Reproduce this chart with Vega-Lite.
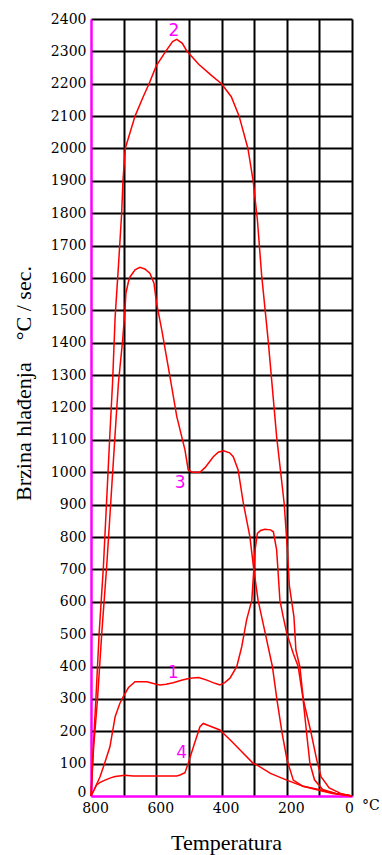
{
  "$schema": "https://vega.github.io/schema/vega-lite/v6.json",
  "width": 261,
  "height": 777,
  "autosize": {"type": "none"},
  "padding": {"left": 91, "top": 19, "right": 30, "bottom": 59},
  "background": "white",
  "config": {"view": {"stroke": null}},
  "datasets": {
    "curves": [
      {"curve": "1", "T": 800, "V": 0}, {"curve": "1", "T": 790, "V": 20}, {"curve": "1", "T": 772, "V": 60}, {"curve": "1", "T": 757, "V": 105}, {"curve": "1", "T": 742, "V": 152}, {"curve": "1", "T": 726, "V": 245}, {"curve": "1", "T": 712, "V": 285}, {"curve": "1", "T": 701, "V": 307}, {"curve": "1", "T": 685, "V": 335}, {"curve": "1", "T": 665, "V": 353}, {"curve": "1", "T": 629, "V": 353}, {"curve": "1", "T": 600, "V": 345}, {"curve": "1", "T": 588, "V": 343}, {"curve": "1", "T": 570, "V": 345}, {"curve": "1", "T": 548, "V": 350}, {"curve": "1", "T": 520, "V": 358}, {"curve": "1", "T": 497, "V": 364}, {"curve": "1", "T": 470, "V": 366}, {"curve": "1", "T": 445, "V": 358}, {"curve": "1", "T": 420, "V": 348}, {"curve": "1", "T": 405, "V": 343}, {"curve": "1", "T": 390, "V": 350}, {"curve": "1", "T": 374, "V": 364}, {"curve": "1", "T": 353, "V": 400}, {"curve": "1", "T": 338, "V": 461}, {"curve": "1", "T": 323, "V": 544}, {"curve": "1", "T": 307, "V": 605}, {"curve": "1", "T": 297, "V": 760}, {"curve": "1", "T": 290, "V": 811}, {"curve": "1", "T": 280, "V": 820}, {"curve": "1", "T": 267, "V": 824}, {"curve": "1", "T": 250, "V": 822}, {"curve": "1", "T": 241, "V": 816}, {"curve": "1", "T": 231, "V": 760}, {"curve": "1", "T": 221, "V": 605}, {"curve": "1", "T": 211, "V": 554}, {"curve": "1", "T": 200, "V": 503}, {"curve": "1", "T": 180, "V": 440}, {"curve": "1", "T": 165, "V": 400}, {"curve": "1", "T": 150, "V": 300}, {"curve": "1", "T": 139, "V": 193}, {"curve": "1", "T": 129, "V": 101}, {"curve": "1", "T": 115, "V": 50}, {"curve": "1", "T": 90, "V": 20}, {"curve": "1", "T": 50, "V": 8}, {"curve": "1", "T": 0, "V": 0},
      {"curve": "2", "T": 800, "V": 0}, {"curve": "2", "T": 793, "V": 150}, {"curve": "2", "T": 785, "V": 300}, {"curve": "2", "T": 775, "V": 503}, {"curve": "2", "T": 762, "V": 708}, {"curve": "2", "T": 752, "V": 914}, {"curve": "2", "T": 742, "V": 1120}, {"curve": "2", "T": 734, "V": 1275}, {"curve": "2", "T": 726, "V": 1480}, {"curve": "2", "T": 716, "V": 1635}, {"curve": "2", "T": 706, "V": 1800}, {"curve": "2", "T": 702, "V": 1900}, {"curve": "2", "T": 695, "V": 2000}, {"curve": "2", "T": 680, "V": 2050}, {"curve": "2", "T": 665, "V": 2100}, {"curve": "2", "T": 640, "V": 2160}, {"curve": "2", "T": 622, "V": 2200}, {"curve": "2", "T": 600, "V": 2255}, {"curve": "2", "T": 571, "V": 2300}, {"curve": "2", "T": 550, "V": 2330}, {"curve": "2", "T": 537, "V": 2337}, {"curve": "2", "T": 520, "V": 2325}, {"curve": "2", "T": 507, "V": 2302}, {"curve": "2", "T": 470, "V": 2260}, {"curve": "2", "T": 430, "V": 2225}, {"curve": "2", "T": 400, "V": 2200}, {"curve": "2", "T": 370, "V": 2160}, {"curve": "2", "T": 346, "V": 2100}, {"curve": "2", "T": 319, "V": 2000}, {"curve": "2", "T": 303, "V": 1900}, {"curve": "2", "T": 290, "V": 1780}, {"curve": "2", "T": 277, "V": 1609}, {"curve": "2", "T": 257, "V": 1408}, {"curve": "2", "T": 231, "V": 1110}, {"curve": "2", "T": 208, "V": 905}, {"curve": "2", "T": 198, "V": 760}, {"curve": "2", "T": 192, "V": 650}, {"curve": "2", "T": 178, "V": 554}, {"curve": "2", "T": 172, "V": 451}, {"curve": "2", "T": 160, "V": 400}, {"curve": "2", "T": 149, "V": 297}, {"curve": "2", "T": 125, "V": 193}, {"curve": "2", "T": 108, "V": 111}, {"curve": "2", "T": 95, "V": 60}, {"curve": "2", "T": 70, "V": 25}, {"curve": "2", "T": 35, "V": 8}, {"curve": "2", "T": 0, "V": 0},
      {"curve": "3", "T": 800, "V": 0}, {"curve": "3", "T": 792, "V": 150}, {"curve": "3", "T": 780, "V": 300}, {"curve": "3", "T": 767, "V": 503}, {"curve": "3", "T": 752, "V": 708}, {"curve": "3", "T": 739, "V": 914}, {"curve": "3", "T": 726, "V": 1120}, {"curve": "3", "T": 716, "V": 1275}, {"curve": "3", "T": 703, "V": 1408}, {"curve": "3", "T": 696, "V": 1500}, {"curve": "3", "T": 693, "V": 1553}, {"curve": "3", "T": 685, "V": 1590}, {"curve": "3", "T": 680, "V": 1604}, {"curve": "3", "T": 665, "V": 1625}, {"curve": "3", "T": 650, "V": 1633}, {"curve": "3", "T": 635, "V": 1628}, {"curve": "3", "T": 619, "V": 1614}, {"curve": "3", "T": 607, "V": 1584}, {"curve": "3", "T": 599, "V": 1522}, {"curve": "3", "T": 583, "V": 1439}, {"curve": "3", "T": 558, "V": 1295}, {"curve": "3", "T": 537, "V": 1172}, {"curve": "3", "T": 512, "V": 1069}, {"curve": "3", "T": 502, "V": 1007}, {"curve": "3", "T": 490, "V": 1000}, {"curve": "3", "T": 466, "V": 1000}, {"curve": "3", "T": 450, "V": 1015}, {"curve": "3", "T": 425, "V": 1048}, {"curve": "3", "T": 410, "V": 1062}, {"curve": "3", "T": 394, "V": 1066}, {"curve": "3", "T": 375, "V": 1060}, {"curve": "3", "T": 364, "V": 1048}, {"curve": "3", "T": 349, "V": 1007}, {"curve": "3", "T": 333, "V": 904}, {"curve": "3", "T": 313, "V": 801}, {"curve": "3", "T": 302, "V": 708}, {"curve": "3", "T": 288, "V": 605}, {"curve": "3", "T": 266, "V": 503}, {"curve": "3", "T": 244, "V": 400}, {"curve": "3", "T": 230, "V": 297}, {"curve": "3", "T": 214, "V": 193}, {"curve": "3", "T": 199, "V": 111}, {"curve": "3", "T": 180, "V": 49}, {"curve": "3", "T": 150, "V": 30}, {"curve": "3", "T": 108, "V": 19}, {"curve": "3", "T": 60, "V": 8}, {"curve": "3", "T": 0, "V": 0},
      {"curve": "4", "T": 800, "V": 0}, {"curve": "4", "T": 790, "V": 20}, {"curve": "4", "T": 783, "V": 34}, {"curve": "4", "T": 772, "V": 42}, {"curve": "4", "T": 757, "V": 49}, {"curve": "4", "T": 740, "V": 56}, {"curve": "4", "T": 726, "V": 60}, {"curve": "4", "T": 696, "V": 64}, {"curve": "4", "T": 671, "V": 62}, {"curve": "4", "T": 620, "V": 62}, {"curve": "4", "T": 568, "V": 62}, {"curve": "4", "T": 537, "V": 62}, {"curve": "4", "T": 527, "V": 65}, {"curve": "4", "T": 512, "V": 72}, {"curve": "4", "T": 502, "V": 101}, {"curve": "4", "T": 486, "V": 152}, {"curve": "4", "T": 466, "V": 214}, {"curve": "4", "T": 456, "V": 224}, {"curve": "4", "T": 440, "V": 218}, {"curve": "4", "T": 405, "V": 204}, {"curve": "4", "T": 370, "V": 170}, {"curve": "4", "T": 343, "V": 142}, {"curve": "4", "T": 303, "V": 101}, {"curve": "4", "T": 292, "V": 96}, {"curve": "4", "T": 250, "V": 70}, {"curve": "4", "T": 200, "V": 49}, {"curve": "4", "T": 150, "V": 30}, {"curve": "4", "T": 98, "V": 19}, {"curve": "4", "T": 50, "V": 8}, {"curve": "4", "T": 0, "V": 0}
    ],
    "labels": [
      {"T": 546, "V": 2364, "text": "2"},
      {"T": 527, "V": 967, "text": "3"},
      {"T": 548, "V": 380, "text": "1"},
      {"T": 522, "V": 133, "text": "4"}
    ],
    "unit": [
      {"T": -58, "V": -31, "text": "°C"}
    ]
  },
  "encoding": {
    "x": {
      "field": "T", "type": "quantitative",
      "scale": {"domain": [0, 800], "reverse": true, "nice": false, "zero": false},
      "axis": {
        "values": [0, 100, 200, 300, 400, 500, 600, 700, 800],
        "labelExpr": "datum.value % 200 === 0 ? datum.label : ''",
        "grid": true,
        "gridColor": {"condition": {"test": "datum.value === 800", "value": "#ff00ff"}, "value": "#000000"},
        "gridWidth": 2,
        "gridOpacity": 1,
        "domainColor": "#ff00ff",
        "domainWidth": 2,
        "ticks": false,
        "labelFlush": false,
        "labelOverlap": false,
        "labelBound": false,
        "labelFont": "DejaVu Serif",
        "labelFontSize": 14,
        "labelColor": "#000000",
        "labelPadding": 5,
        "labelOffset": {"condition": {"test": "datum.value === 0", "value": -3}, "value": 4},
        "title": "Temperatura",
        "titleFont": "Liberation Serif",
        "titleFontSize": 22,
        "titleFontWeight": "normal",
        "titleColor": "#000000",
        "titleX": 135,
        "titleY": 53,
        "titleBaseline": "alphabetic",
        "titleAlign": "center"
      }
    },
    "y": {
      "field": "V", "type": "quantitative",
      "scale": {"domain": [0, 2400], "nice": false},
      "axis": {
        "values": [0, 100, 200, 300, 400, 500, 600, 700, 800, 900, 1000, 1100, 1200, 1300, 1400, 1500, 1600, 1700, 1800, 1900, 2000, 2100, 2200, 2300, 2400],
        "format": "d",
        "grid": true,
        "gridColor": {"condition": {"test": "datum.value === 0", "value": "#ff00ff"}, "value": "#000000"},
        "gridWidth": 2,
        "gridOpacity": 1,
        "domainColor": "#ff00ff",
        "domainWidth": 2,
        "ticks": false,
        "labelFlush": false,
        "labelOverlap": false,
        "labelBound": false,
        "labelFont": "DejaVu Serif",
        "labelFontSize": 14,
        "labelColor": "#000000",
        "labelPadding": 5,
        "labelOffset": {"condition": {"test": "datum.value === 0", "value": -4}, "value": 0},
        "title": "Brzina hlađenja\u00a0\u00a0\u00a0\u00a0°C / sec.",
        "titleFont": "Liberation Serif",
        "titleFontSize": 22,
        "titleFontWeight": "normal",
        "titleColor": "#000000",
        "titleAngle": -90,
        "titleX": -61,
        "titleY": 364,
        "titleBaseline": "alphabetic",
        "titleAlign": "center"
      }
    }
  },
  "layer": [
    {
      "data": {"name": "curves"},
      "mark": {"type": "line", "color": "#ff0000", "strokeWidth": 1.5},
      "encoding": {
        "detail": {"field": "curve", "type": "nominal"}
      }
    },
    {
      "data": {"name": "labels"},
      "mark": {"type": "text", "color": "#ff00ff", "font": "DejaVu Sans", "fontSize": 17, "align": "center", "baseline": "middle"},
      "encoding": {
        "text": {"field": "text"}
      }
    },
    {
      "data": {"name": "unit"},
      "mark": {"type": "text", "color": "#000000", "font": "DejaVu Serif", "fontSize": 14, "align": "center", "baseline": "middle"},
      "encoding": {
        "text": {"field": "text"}
      }
    }
  ]
}
